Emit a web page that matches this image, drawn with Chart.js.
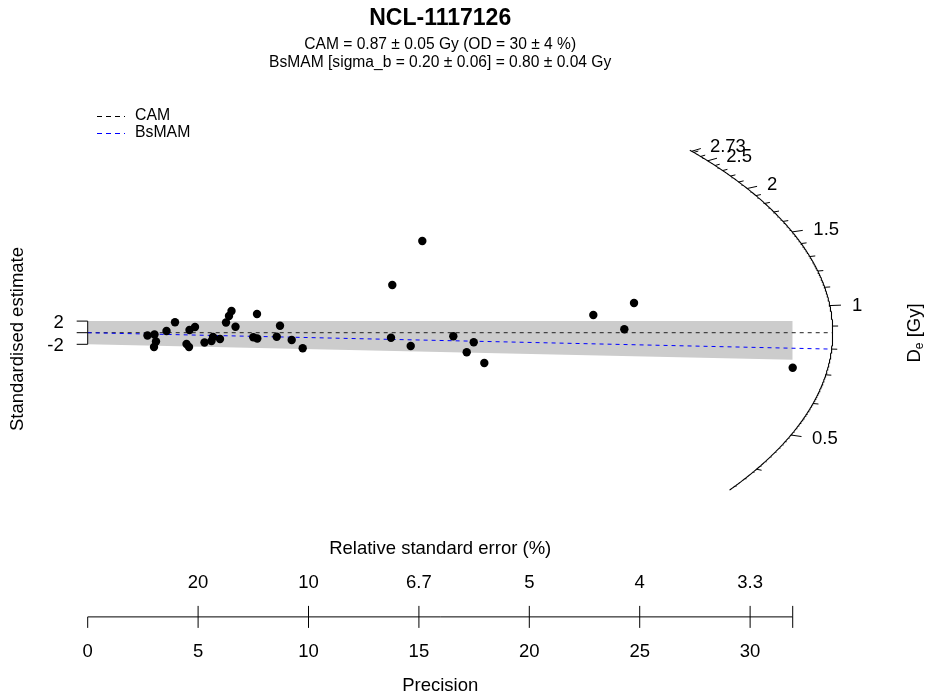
<!DOCTYPE html>
<html><head><meta charset="utf-8">
<script src="https://cdn.jsdelivr.net/npm/chart.js@4.4.1/dist/chart.umd.min.js"></script>
<style>html,body{margin:0;padding:0;background:#fff;}#wrap{width:926px;height:699px;}</style>
</head><body><div id="wrap"><canvas id="c" width="926" height="699"></canvas></div>
<script>
// ---- data ----
const precision = [2.708,3.025,3.093,3.003,3.569,3.954,4.475,4.588,4.611,4.860,5.290,5.607,5.675,5.992,6.264,6.399,6.513,6.694,7.500,7.681,7.668,8.560,8.709,9.239,9.737,13.795,13.736,14.629,15.154,16.558,17.165,17.482,17.962,22.899,24.303,24.742,31.929];
const standardisedEstimate = [-0.483,-0.310,-1.517,-2.466,0.293,1.793,-1.948,-2.466,0.466,0.983,-1.690,-1.431,-0.741,-1.086,1.759,2.879,3.741,1.034,-0.793,-1.0,3.224,-0.690,1.207,-1.259,-2.690,8.224,-0.862,-2.293,15.810,-0.621,-3.379,-1.655,-5.224,3.052,0.586,5.121,-6.034];
const camDe = 0.87;
const bsmamDe = 0.80;
const precisionTicks = [0,5,10,15,20,25,30];
const rseTicks = [5,10,15,20,25,30];
const rseLabels = ['20','10','6.7','5','4','3.3'];
const deMajorTicks = [0.5,1,1.5,2,2.5,2.73];
const deMajorLabels = ['0.5','1','1.5','2','2.5','2.73'];
const deMinorTicks = [0.4,0.6,0.7,0.8,0.9,1.1,1.2,1.3,1.4,1.6,1.7,1.8,1.9,2.1,2.2,2.3,2.4,2.6,2.7];
const deArcRange = [0.342, 2.76];
const legendLabels = ['CAM','BsMAM'];
const titleText = 'NCL-1117126';
const subtitleLines = ['CAM = 0.87 \u00b1 0.05 Gy (OD = 30 \u00b1 4 %)','BsMAM [sigma_b = 0.20 \u00b1 0.06] = 0.80 \u00b1 0.04 Gy'];

// ---- geometry ----
const A = 33.74, B = 53.45;           // arc semi-axes in data units
const z0 = Math.log(camDe);
function arcPoint(de, f){ f = f || 1; const s = Math.log(de) - z0; const x = 1/Math.sqrt(1/(A*A) + s*s/(B*B)); return {x:x*f, y:s*x*f}; }

const points = precision.map((p,i)=>({x:p, y:standardisedEstimate[i]}));
const maxP = Math.max(...precision);
const sb = Math.log(bsmamDe) - z0;
const arcData = [];
{ const l0 = Math.log(deArcRange[0]), l1 = Math.log(deArcRange[1]); const n = 400;
  for (let i=0;i<=n;i++){ arcData.push(arcPoint(Math.exp(l0 + (l1-l0)*i/n))); } }

const FONT = '"Liberation Sans", Arial, Helvetica, sans-serif';

const decor = {
  id:'decor',
  afterDatasetsDraw(chart){
    const ctx = chart.ctx, xs = chart.scales.x, ys = chart.scales.y;
    const X = v=>xs.getPixelForValue(v), Y = v=>ys.getPixelForValue(v);
    const ln = (x1,y1,x2,y2)=>{ctx.beginPath();ctx.moveTo(x1,y1);ctx.lineTo(x2,y2);ctx.stroke();};
    ctx.save();
    ctx.strokeStyle='#000'; ctx.fillStyle='#000'; ctx.lineWidth=1;

    // y bracket axis
    const x0 = X(0);
    ln(x0, Y(2), x0, Y(-2));
    [2,0,-2].forEach(v=>ln(x0-11, Y(v), x0, Y(v)));
    ctx.font = '18.5px '+FONT; ctx.textAlign='right'; ctx.textBaseline='middle';
    ctx.fillText('2', x0-24, Y(2)+2);
    ctx.fillText('-2', x0-24, Y(-2)+2);
    // y title
    ctx.save(); ctx.translate(18, 339); ctx.rotate(-Math.PI/2);
    ctx.textAlign='center'; ctx.textBaseline='middle'; ctx.fillText('Standardised estimate',0,0); ctx.restore();

    // precision axis
    const yb = Y(ys.min);
    ln(X(0), yb, X(maxP), yb);
    precisionTicks.forEach(v=>ln(X(v), yb, X(v), yb+11));
    ln(X(maxP), yb, X(maxP), yb+11);
    rseTicks.forEach(v=>ln(X(v), yb, X(v), yb-11));
    ln(X(maxP), yb, X(maxP), yb-11);
    ctx.textAlign='center'; ctx.textBaseline='middle'; ctx.font='18.5px '+FONT;
    precisionTicks.forEach(v=>ctx.fillText(String(v), X(v), yb+35.5));
    rseTicks.forEach((v,i)=>ctx.fillText(rseLabels[i], X(v), yb-33.5));
    const xc = (X(0)+X(maxP))/2;
    ctx.fillText('Relative standard error (%)', xc, yb-67.5);
    ctx.fillText('Precision', xc, yb+69.5);

    // title
    ctx.font='bold 23px '+FONT; ctx.fillText(titleText, xc, 18.5);
    ctx.font='15.6px '+FONT;
    ctx.fillText(subtitleLines[0], xc, 45);
    ctx.fillText(subtitleLines[1], xc, 63);

    // legend
    ctx.textAlign='left'; ctx.font='15.8px '+FONT;
    const lc = ['#000','#0000ff'];
    [115.5,132.5].forEach((yy,i)=>{
      ctx.save(); ctx.strokeStyle=lc[i]; ctx.setLineDash([5,4]); ln(97, Math.round(yy)+0.5, 125, Math.round(yy)+0.5); ctx.restore();
      ctx.fillText(legendLabels[i], 135, yy);
    });

    // arc ticks
    deMajorTicks.forEach((d,i)=>{
      const p1 = arcPoint(d,1), p2 = arcPoint(d,1.015), p3 = arcPoint(d,1.03);
      ln(X(p1.x),Y(p1.y),X(p2.x),Y(p2.y));
      ctx.font='18.5px '+FONT; ctx.textAlign='left'; ctx.textBaseline='middle';
      ctx.fillText(deMajorLabels[i], X(p3.x), Y(p3.y)+1);
    });
    deMinorTicks.forEach(d=>{
      const p1 = arcPoint(d,1), p2 = arcPoint(d,1.0075);
      ln(X(p1.x),Y(p1.y),X(p2.x),Y(p2.y));
    });

    // De [Gy] label
    ctx.save(); ctx.translate(915, 333); ctx.rotate(-Math.PI/2);
    ctx.textBaseline='middle'; ctx.textAlign='left';
    ctx.font='18.5px '+FONT;
    const wD = ctx.measureText('D').width;
    ctx.font='12px '+FONT; const we = ctx.measureText('e').width;
    ctx.font='18.5px '+FONT; const wr = ctx.measureText(' [Gy]').width;
    let sx = -(wD+we+wr)/2;
    ctx.fillText('D', sx, 0); sx += wD;
    ctx.font='12px '+FONT; ctx.fillText('e', sx, 5); sx += we;
    ctx.font='18.5px '+FONT; ctx.fillText(' [Gy]', sx, 0);
    ctx.restore();

    ctx.restore();
  }
};

new Chart(document.getElementById('c'), {
  type:'line',
  data:{ datasets:[
    { label:'bandBottom', data:[{x:0,y:-2},{x:maxP,y:-2+sb*maxP}], borderWidth:0, pointRadius:0, fill:false, order:20 },
    { label:'bandTop', data:[{x:0,y:2},{x:maxP,y:2}], borderWidth:0, pointRadius:0, fill:'-1', backgroundColor:'#cccccc', borderColor:'rgba(0,0,0,0)', order:19 },
    { label:'CAM', data:[{x:0,y:0}, arcPoint(camDe)], borderColor:'#222', borderWidth:1, borderDash:[4,4], pointRadius:0, fill:false, order:10 },
    { label:'BsMAM', data:[{x:0,y:0}, arcPoint(bsmamDe)], borderColor:'#0000ff', borderWidth:1, borderDash:[4,4], pointRadius:0, fill:false, order:9 },
    { label:'arc', data:arcData, borderColor:'#000', borderWidth:1.1, pointRadius:0, fill:false, tension:0, order:8 },
    { label:'De', data:points, showLine:false, pointRadius:4.2, pointBorderWidth:0, pointBackgroundColor:'#000', pointBorderColor:'#000', order:1 }
  ]},
  options:{
    responsive:false, animation:false, events:[],
    layout:{ padding:{ left:87.7, right:43.4, top:77.5, bottom:82.1 } },
    scales:{
      x:{ type:'linear', min:0, max:36, display:false },
      y:{ type:'linear', min:-49, max:44, display:false }
    },
    plugins:{ legend:{display:false}, tooltip:{enabled:false}, title:{display:false} }
  },
  plugins:[decor]
});
</script></body></html>
